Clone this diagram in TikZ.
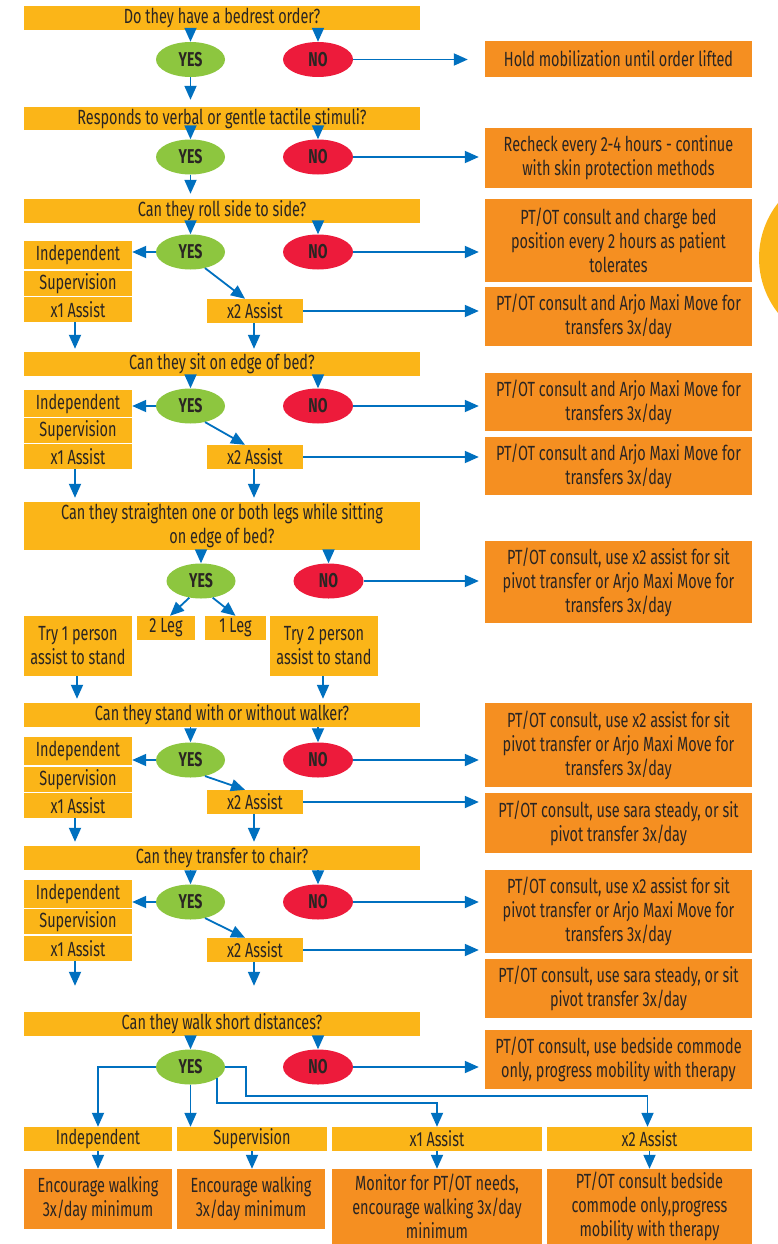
\documentclass[tikz,border=0pt]{standalone}
\usepackage{fontspec}
\setmainfont[FakeStretch=0.705]{Fira Sans}
\usetikzlibrary{shapes.geometric,arrows.meta}
\definecolor{qyel}{HTML}{FBB518}
\definecolor{ora}{HTML}{F58F21}
\definecolor{ygreen}{HTML}{8DC63F}
\definecolor{nred}{HTML}{ED1B3B}
\definecolor{ablue}{HTML}{0070BF}
\definecolor{txt}{HTML}{2A2523}
\newcommand\boxat[7]{%
  \pgfmathsetmacro\bw{#5-#3}\pgfmathsetmacro\bh{#6-#4}%
  \pgfmathsetmacro\bcx{(#3+#5)/2}\pgfmathsetmacro\bcy{(#4+#6)/2}%
  \node[#2,minimum width=\bw pt,minimum height=\bh pt] (#1) at (\bcx,\bcy) {#7};}
\begin{document}
\begin{tikzpicture}[x=1pt,y=-1pt,
  every node/.style={text=txt,font=\fontsize{20.5}{24}\selectfont,inner sep=0pt,align=center},
  qbar/.style={rectangle,fill=qyel},
  obox/.style={rectangle,fill=ora},
  yesn/.style={ellipse,fill=ygreen,minimum width=69pt,minimum height=35pt,font=\fontsize{20}{24}\selectfont\bfseries},
  non/.style={ellipse,fill=nred,minimum width=70pt,minimum height=35pt,font=\fontsize{20}{24}\selectfont\bfseries},
  arr/.style={draw=ablue,line width=1.8pt,-{Triangle[width=12pt,length=14pt]}}]
\clip (0,0) rectangle (778,1244);
\fill[white] (0,0) rectangle (778,1244);
\fill[qyel] (848,258) circle (89);
% ---------- row 1
\boxat{q1}{qbar}{24}{6}{420}{30}{Do they have a bedrest order?}
\node[yesn] (y1) at (190.5,59.5) {YES};
\node[non] (n1) at (318,59.5) {NO};
\boxat{r1}{obox}{485}{41}{752}{77}{Hold mobilization until order lifted}
% ---------- row 2
\boxat{q2}{qbar}{24}{107}{420}{130}{Responds to verbal or gentle tactile stimuli?}
\node[yesn] (y2) at (190.5,157) {YES};
\node[non] (n2) at (318,157) {NO};
\boxat{r2}{obox}{485}{128}{752}{188}{Recheck every 2-4 hours - continue\\with skin protection methods}
% ---------- row 3
\boxat{q3}{qbar}{24}{199}{420}{223}{Can they roll side to side?}
\node[yesn] (y3) at (190.5,252) {YES};
\node[non] (n3) at (318,252) {NO};
\boxat{i3}{qbar}{24}{241}{132}{269}{Independent}
\boxat{s3}{qbar}{24}{271}{132}{296}{Supervision}
\boxat{a3}{qbar}{24}{297}{132}{322}{x1 Assist}
\boxat{t3}{qbar}{207}{299}{303}{323}{x2 Assist}
\boxat{r3a}{obox}{485}{199}{752}{282}{PT/OT consult and charge bed\\position every 2 hours as patient\\tolerates}
\boxat{r3b}{obox}{485}{287}{752}{346}{PT/OT consult and Arjo Maxi Move for\\transfers 3x/day}
% ---------- row 4
\boxat{q4}{qbar}{24}{352}{420}{376}{Can they sit on edge of bed?}
\node[yesn] (y4) at (190.5,406) {YES};
\node[non] (n4) at (318,406) {NO};
\boxat{i4}{qbar}{24}{390}{132}{417}{Independent}
\boxat{s4}{qbar}{24}{418}{132}{443}{Supervision}
\boxat{a4}{qbar}{24}{444}{132}{469}{x1 Assist}
\boxat{t4}{qbar}{207}{445}{303}{469}{x2 Assist}
\boxat{r4a}{obox}{485}{373}{752}{431}{PT/OT consult and Arjo Maxi Move for\\transfers 3x/day}
\boxat{r4b}{obox}{485}{437}{752}{495}{PT/OT consult and Arjo Maxi Move for\\transfers 3x/day}
% ---------- row 5
\boxat{q5}{qbar}{24}{502}{420}{550}{Can they straighten one or both legs while sitting\\on edge of bed?}
\node[yesn] (y5) at (201,581) {YES};
\node[non] (n5) at (328.5,581) {NO};
\boxat{l2}{qbar}{137}{616}{195}{640}{2 Leg}
\boxat{l1}{qbar}{205}{616}{266}{640}{1 Leg}
\boxat{p1}{qbar}{24}{616}{132}{676}{Try 1 person\\assist to stand}
\boxat{p2}{qbar}{270}{616}{378}{676}{Try 2 person\\assist to stand}
\boxat{r5}{obox}{485}{541}{752}{623}{PT/OT consult, use x2 assist for sit\\pivot transfer or Arjo Maxi Move for\\transfers 3x/day}
% ---------- row 6
\boxat{q6}{qbar}{24}{703}{420}{727}{Can they stand with or without walker?}
\node[yesn] (y6) at (190.5,760) {YES};
\node[non] (n6) at (318,760) {NO};
\boxat{i6}{qbar}{24}{737}{132}{765}{Independent}
\boxat{s6}{qbar}{24}{767}{132}{792}{Supervision}
\boxat{a6}{qbar}{24}{793}{132}{818}{x1 Assist}
\boxat{t6}{qbar}{207}{790}{303}{814}{x2 Assist}
\boxat{r6a}{obox}{485}{703}{752}{787}{PT/OT consult, use x2 assist for sit\\pivot transfer or Arjo Maxi Move for\\transfers 3x/day}
\boxat{r6b}{obox}{485}{793}{752}{853}{PT/OT consult, use sara steady, or sit\\pivot transfer 3x/day}
% ---------- row 7
\boxat{q7}{qbar}{24}{846}{420}{870}{Can they transfer to chair?}
\node[yesn] (y7) at (190.5,902) {YES};
\node[non] (n7) at (318,902) {NO};
\boxat{i7}{qbar}{24}{880}{132}{908}{Independent}
\boxat{s7}{qbar}{24}{909}{132}{934}{Supervision}
\boxat{a7}{qbar}{24}{936}{132}{961}{x1 Assist}
\boxat{t7}{qbar}{207}{938}{303}{962}{x2 Assist}
\boxat{r7a}{obox}{485}{870}{752}{953}{PT/OT consult, use x2 assist for sit\\pivot transfer or Arjo Maxi Move for\\transfers 3x/day}
\boxat{r7b}{obox}{485}{959}{752}{1018}{PT/OT consult, use sara steady, or sit\\pivot transfer 3x/day}
% ---------- row 8
\boxat{q8}{qbar}{24}{1012}{420}{1036}{Can they walk short distances?}
\node[yesn] (y8) at (190.5,1067) {YES};
\node[non] (n8) at (318,1067) {NO};
\boxat{r8}{obox}{485}{1030}{752}{1089}{PT/OT consult, use bedside commode\\only, progress mobility with therapy}
\boxat{w1}{qbar}{24}{1127}{172}{1151}{Independent}
\boxat{w2}{qbar}{177}{1127}{327}{1151}{Supervision}
\boxat{w3}{qbar}{332}{1127}{542}{1151}{x1 Assist}
\boxat{w4}{qbar}{547}{1127}{752}{1151}{x2 Assist}
\boxat{e1}{obox}{24}{1169}{172}{1229}{Encourage walking\\3x/day minimum}
\boxat{e2}{obox}{177}{1169}{325}{1229}{Encourage walking\\3x/day minimum}
\boxat{e3}{obox}{332}{1169}{542}{1244}{Monitor for PT/OT needs,\\encourage walking 3x/day\\minimum}
\boxat{e4}{obox}{547}{1169}{752}{1244}{PT/OT consult bedside\\commode only,progress\\mobility with therapy}
% ---------- connectors
\foreach \q/\y/\n in {q1/y1/n1,q2/y2/n2,q3/y3/n3,q4/y4/n4,q5/y5/n5,q6/y6/n6,q7/y7/n7,q8/y8/n8}{
  \draw[arr] (\q.south -| \y) -- (\y.north);
  \draw[arr] (\q.south -| \n) -- (\n.north);
}
\draw[arr,shorten >=17pt] (n1.east) -- (n1.east -| r1.west);
\draw[arr,shorten >=7pt] (y1.south) -- (y1.south |- q2.north);
\draw[arr,shorten >=6pt] (n2.east) -- (n2.east -| r2.west);
\draw[arr,shorten >=5pt] (y2.south) -- (y2.south |- q3.north);
% rows 3,4,6,7
\foreach \y/\n/\i/\a/\t/\ra/\rb/\nq/\sh in {y3/n3/i3/a3/t3/r3a/r3b/q4/3,y4/n4/i4/a4/t4/r4a/r4b/q5/4,y6/n6/i6/a6/t6/r6a/r6b/q7/4,y7/n7/i7/a7/t7/r7a/r7b/q8/26}{
  \draw[arr,shorten >=6pt] (\n.east) -- (\n.east -| \ra.west);
  \draw[arr,shorten >=6pt] (\t.east) -- (\t.east -| \rb.west);
  \draw[arr] (\y.west) -- (\y.west -| \i.east);
  \draw[arr] (\y.-48) -- ([xshift=-10pt]\t.north);
  \draw[arr,shorten >=\sh pt] ([xshift=-3pt]\a.south) -- ([xshift=-3pt]\a.south |- \nq.north);
  \draw[arr,shorten >=\sh pt] ([xshift=-1pt]\t.south) -- ([xshift=-1pt]\t.south |- \nq.north);
}
% row 5
\draw[arr,shorten >=6pt] (n5.east) -- (n5.east -| r5.west);
\draw[arr] (y5.-125) -- ([xshift=4pt]l2.north);
\draw[arr] (y5.-55) -- (l1.north);
\draw[arr,shorten >=4pt] ([xshift=-1pt]p1.south) -- ([xshift=-1pt]p1.south |- q6.north);
\draw[arr,shorten >=4pt] ([xshift=-1pt]p2.south) -- ([xshift=-1pt]p2.south |- q6.north);
% row 8
\draw[arr,shorten >=6pt] (n8.east) -- (n8.east -| r8.west);
\draw[arr] (y8.south) -- (y8.south |- w2.north);
\draw[arr] (y8.west) -| (w1.north);
\coordinate (k1) at (246,1096);
\coordinate (k2) at (0,1103);
\draw[arr] (y8.east) -| (k1) -| ([xshift=-2pt]w4.north);
\draw[arr] (y8.-23) |- (k2 -| w3.north) -- (w3.north);
\foreach \w/\e in {w1/e1,w2/e2,w3/e3,w4/e4}{
  \draw[arr] (\w.south) -- (\w.south |- \e.north);
}
\end{tikzpicture}
\end{document}
